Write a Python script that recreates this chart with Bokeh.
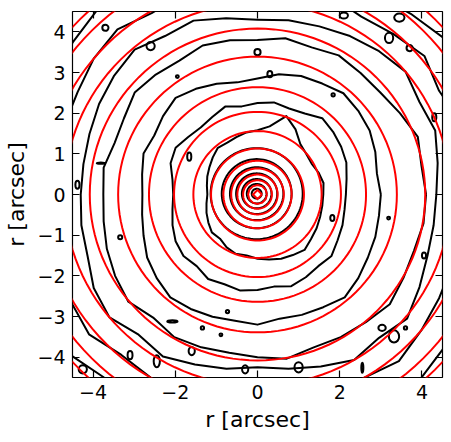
import numpy as np
from bokeh.plotting import figure
from bokeh.models import LinearAxis, FixedTicker
from bokeh.embed import file_html
from bokeh.resources import INLINE

# ---------------- data ----------------
x_ticks = [-4, -2, 0, 2, 4]
x_tick_labels = ["−4", "−2", "0", "2", "4"]
y_ticks = [-4, -3, -2, -1, 0, 1, 2, 3, 4]
y_tick_labels = ["−4", "−3", "−2", "−1", "0", "1", "2", "3", "4"]
x_label = "r [arcsec]"
y_label = "r [arcsec]"
axis_lim = [-4.5, 4.5]

# model isophotes (red): radii in arcsec
model_radii = [0.11, 0.23, 0.35, 0.49, 0.64, 0.83, 1.13, 1.56, 2.03, 2.64,
               3.39, 4.08, 4.70, 5.20, 5.70, 6.10]

# observed isophotes (black): inner ones nearly circular
data_inner_radii = [0.12, 0.24, 0.36, 0.50, 0.65, 0.85, 1.12]

# observed isophotes (black): radius every 10 degrees (0 = +x, counter-clockwise)
profile_angles = list(range(0, 360, 10))
data_c2 = [1.60, 1.63, 1.58, 1.52, 1.55, 1.62, 1.85, 2.05, 1.70, 1.58, 1.55, 1.50,
           1.47, 1.50, 1.42, 1.35, 1.30, 1.25, 1.22, 1.26, 1.32, 1.38, 1.45, 1.42,
           1.50, 1.55, 1.52, 1.58, 1.62, 1.68, 1.72, 1.78, 1.70, 1.66, 1.62, 1.60]
data_c3 = [2.15, 2.20, 2.30, 2.35, 2.40, 2.45, 2.30, 2.25, 2.30, 2.25, 2.20, 2.30,
           2.20, 2.15, 2.20, 2.30, 2.25, 2.10, 2.05, 2.10, 2.20, 2.30, 2.35, 2.30,
           2.40, 2.35, 2.40, 2.35, 2.30, 2.40, 2.35, 2.30, 2.35, 2.25, 2.20, 2.15]
data_c4 = [3.00, 2.95, 3.05, 3.15, 3.20, 3.25, 3.15, 3.10, 3.00, 2.85, 2.80, 2.90,
           3.00, 3.10, 3.00, 2.90, 2.95, 2.85, 2.80, 2.85, 2.95, 3.10, 3.20, 3.30,
           3.25, 3.20, 3.15, 3.20, 3.10, 3.15, 3.20, 3.30, 3.20, 3.10, 3.05, 3.00]
data_c5 = [4.10, 4.05, 4.15, 4.00, 3.90, 3.90, 3.95, 3.85, 3.90, 3.80, 3.85, 3.90,
           3.80, 3.85, 3.90, 3.75, 3.70, 3.80, 3.75, 3.80, 3.90, 4.00, 4.10, 3.95,
           4.05, 4.00, 3.95, 4.00, 4.10, 4.00, 4.05, 4.10, 4.20, 4.10, 4.05, 4.10]
data_c6 = [4.35, 4.45, 4.60, 4.55, 4.70, 4.60, 4.50, 4.40, 4.35, 4.30, 4.40, 4.55,
           4.50, 4.65, 4.55, 4.45, 4.35, 4.30, 4.30, 4.35, 4.40, 4.60, 4.70, 4.50,
           4.60, 4.45, 4.35, 4.25, 4.35, 4.50, 4.70, 4.60, 4.75, 4.55, 4.40, 4.35]
data_c7 = [5.00, 5.10, 5.25, 5.10, 5.30, 5.15, 5.05, 5.20, 5.10, 5.00, 5.10, 5.25,
           5.15, 5.30, 5.20, 5.05, 5.00, 5.10, 5.05, 5.15, 5.00, 5.25, 5.35, 5.15,
           5.20, 5.10, 5.00, 5.05, 5.15, 5.30, 5.20, 5.35, 5.20, 5.10, 5.05, 5.00]
data_c8 = [5.70, 5.80, 5.90, 5.75, 5.95, 5.80, 5.70, 5.85, 5.75, 5.65, 5.80, 5.90,
           5.85, 6.00, 5.85, 5.75, 5.70, 5.80, 5.75, 5.85, 5.70, 5.95, 6.05, 5.85,
           5.90, 5.75, 5.70, 5.75, 5.85, 6.00, 5.85, 6.05, 5.90, 5.80, 5.75, 5.70]
data_profiles = [data_c2, data_c3, data_c4, data_c5, data_c6, data_c7, data_c8]

# small closed noise contours (black): centre x, centre y, width, height (arcsec)
blob_x = [0.00, 0.30, 1.84, -1.66, 1.82, 3.19, -3.34, -0.73, -1.34, -0.89, 3.03,
          -1.95, -2.60, -4.38, -2.07, -3.81, 3.60, 2.55, 3.32, -3.10, -2.45, -1.60,
          3.20, 3.70, 3.45, 2.10, -3.70, -4.25, 4.30, 4.05, 1.00, -0.30]
blob_y = [3.50, 2.96, 2.45, 0.93, -0.58, -0.58, -1.05, -2.88, -3.28, -3.45, -3.28,
          2.90, 3.65, 0.24, -3.12, 0.77, -3.28, -4.26, -3.49, -3.95, -4.10, -3.85,
          3.85, 3.60, 4.35, 4.40, 4.10, -4.30, 1.90, -1.50, -4.25, -4.30]
blob_w = [0.15, 0.12, 0.08, 0.10, 0.10, 0.07, 0.10, 0.08, 0.08, 0.07, 0.18,
          0.07, 0.20, 0.10, 0.25, 0.20, 0.08, 0.05, 0.25, 0.12, 0.15, 0.15,
          0.20, 0.15, 0.25, 0.20, 0.15, 0.20, 0.10, 0.10, 0.20, 0.15]
blob_h = [0.15, 0.15, 0.08, 0.20, 0.15, 0.07, 0.10, 0.08, 0.08, 0.07, 0.15,
          0.07, 0.20, 0.20, 0.05, 0.03, 0.08, 0.25, 0.30, 0.20, 0.30, 0.20,
          0.25, 0.15, 0.20, 0.15, 0.15, 0.20, 0.20, 0.15, 0.25, 0.20]

# ---------------- figure ----------------
p = figure(width=448, height=434, x_range=tuple(axis_lim), y_range=tuple(axis_lim),
           output_backend="svg", toolbar_location=None,
           min_border_left=72, min_border_right=6, min_border_top=11, min_border_bottom=54)
p.grid.visible = False
p.outline_line_color = "black"
p.outline_line_width = 1.2
p.background_fill_color = "white"
p.border_fill_color = "white"

FONT = "DejaVu Sans"

def style_axis(ax, ticks, labels, show_labels):
    ax.ticker = FixedTicker(ticks=ticks)
    ax.major_tick_in = 7
    ax.major_tick_out = 0
    ax.minor_tick_in = 0
    ax.minor_tick_out = 0
    ax.major_tick_line_color = "black"
    ax.major_tick_line_width = 1.2
    ax.axis_line_color = None
    ax.major_label_text_font = FONT
    if show_labels:
        ax.major_label_overrides = {float(t): l for t, l in zip(ticks, labels)}
        ax.major_label_text_color = "black"
        ax.major_label_text_font_size = "19px"
        ax.major_label_standoff = 7
    else:
        ax.major_label_text_color = None
        ax.major_label_text_font_size = "1px"
        ax.major_label_standoff = 0

style_axis(p.xaxis[0], x_ticks, x_tick_labels, True)
style_axis(p.yaxis[0], y_ticks, y_tick_labels, True)
p.xaxis[0].axis_label = x_label
p.yaxis[0].axis_label = y_label
for ax in (p.xaxis[0], p.yaxis[0]):
    ax.axis_label_text_font = FONT
    ax.axis_label_text_font_size = "22px"
    ax.axis_label_text_font_style = "normal"
    ax.axis_label_text_color = "black"
    ax.axis_label_standoff = 5

ax_top = LinearAxis()
style_axis(ax_top, x_ticks, x_tick_labels, False)
p.add_layout(ax_top, "above")
ax_right = LinearAxis()
style_axis(ax_right, y_ticks, y_tick_labels, False)
p.add_layout(ax_right, "right")

LW = 2.0

def ring(r, n, cx=0.0, cy=0.0):
    t = np.linspace(0, 2 * np.pi, n + 1)
    return list(cx + r * np.cos(t)), list(cy + r * np.sin(t))

# observed contours (black)
xs, ys = [], []
for r in data_inner_radii:
    a, b = ring(r, 96, -0.02, 0.02)
    xs.append(a); ys.append(b)
ang = np.deg2rad(np.array(profile_angles + [360]))
for prof in data_profiles:
    rr = np.array(prof + [prof[0]])
    xs.append(list(rr * np.cos(ang)))
    ys.append(list(rr * np.sin(ang)))
p.multi_line(xs, ys, line_color="black", line_width=LW, line_join="round")

p.ellipse(x=blob_x, y=blob_y, width=blob_w, height=blob_h,
          fill_color=None, line_color="black", line_width=LW)

# model contours (red)
mx, my = [], []
for i, r in enumerate(model_radii):
    n = 4 if i == 0 else (12 if i == 1 else 128)
    a, b = ring(r, n)
    mx.append(a); my.append(b)
p.multi_line(mx, my, line_color="red", line_width=LW, line_join="miter")

open("out.html", "w").write(file_html(p, INLINE))
